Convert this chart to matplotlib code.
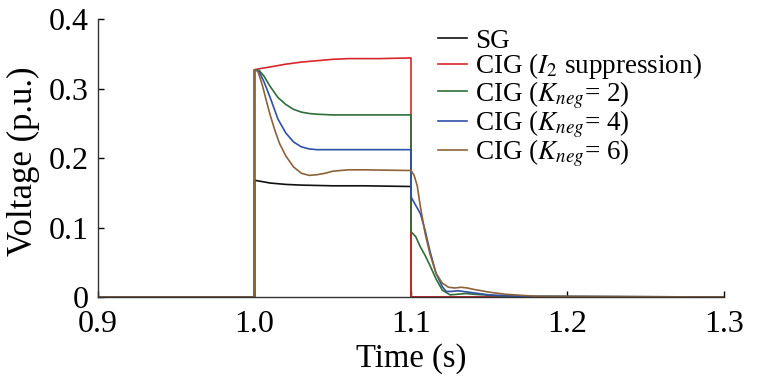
import matplotlib
matplotlib.use('Agg')
import matplotlib.pyplot as plt

# Donnees
t_sg = [0.9, 1.0, 1.0, 1.005, 1.01, 1.02, 1.03, 1.05, 1.07, 1.1, 1.1, 1.3]
v_sg = [0, 0, 0.168, 0.166, 0.164, 0.162, 0.161, 0.160, 0.160, 0.159, 0, 0]

t_i2 = [0.9, 1.0, 1.0, 1.002, 1.01, 1.02, 1.03, 1.04, 1.05, 1.06, 1.08, 1.1, 1.1, 1.3]
v_i2 = [0, 0, 0.327, 0.328, 0.331, 0.335, 0.338, 0.340, 0.342, 0.343, 0.343, 0.344, 0, 0]

t_k2 = [0.9, 1.0, 1.0, 1.003, 1.006, 1.01, 1.015, 1.02, 1.025, 1.03, 1.035, 1.04, 1.05,
        1.1, 1.1, 1.103, 1.106, 1.109, 1.112, 1.116, 1.12, 1.125, 1.13, 1.135, 1.14, 1.16, 1.3]
v_k2 = [0, 0, 0.327, 0.326, 0.318, 0.303, 0.287, 0.277, 0.270, 0.266, 0.264, 0.263, 0.262,
        0.262, 0.094, 0.087, 0.072, 0.060, 0.046, 0.026, 0.010, 0.003, 0.004, 0.005, 0.004, 0.001, 0]

t_k4 = [0.9, 1.0, 1.0, 1.003, 1.006, 1.01, 1.015, 1.02, 1.025, 1.03, 1.035, 1.04, 1.05,
        1.1, 1.1, 1.103, 1.106, 1.109, 1.112, 1.116, 1.12, 1.1225, 1.126, 1.13, 1.14, 1.15, 1.17, 1.3]
v_k4 = [0, 0, 0.327, 0.324, 0.310, 0.287, 0.256, 0.236, 0.223, 0.216, 0.213, 0.212, 0.212,
        0.212, 0.144, 0.132, 0.120, 0.096, 0.067, 0.034, 0.015, 0.008, 0.008, 0.009, 0.006, 0.003, 0.001, 0]

t_k6 = [0.9, 1.0, 1.0, 1.002, 1.005, 1.0075, 1.01, 1.013, 1.016, 1.02, 1.025, 1.03, 1.035,
        1.04, 1.045, 1.05, 1.055, 1.06, 1.07, 1.1, 1.102, 1.104, 1.106, 1.109, 1.112, 1.116,
        1.12, 1.124, 1.128, 1.132, 1.136, 1.14, 1.15, 1.16, 1.18, 1.3]
v_k6 = [0, 0, 0.327, 0.326, 0.305, 0.283, 0.262, 0.240, 0.221, 0.203, 0.187, 0.178, 0.175,
        0.176, 0.178, 0.181, 0.182, 0.183, 0.183, 0.182, 0.175, 0.160, 0.130, 0.092, 0.063, 0.034,
        0.020, 0.014, 0.013, 0.014, 0.013, 0.011, 0.007, 0.004, 0.001, 0]

labels = ['SG', r'CIG ($I_2$ suppression)', r'CIG ($K_{neg}$= 2)',
          r'CIG ($K_{neg}$= 4)', r'CIG ($K_{neg}$= 6)']
couleurs = ['#111111', '#d9262b', '#2d6e3a', '#3050a8', '#8c6239']

plt.rcParams['font.family'] = ['Liberation Serif', 'DejaVu Serif']
plt.rcParams['mathtext.fontset'] = 'stix'

fig = plt.figure(figsize=(7.62, 3.8), dpi=100)
ax = fig.add_axes([0.1286, 0.2184, 0.8215, 0.7316])

series = [(t_sg, v_sg), (t_i2, v_i2), (t_k2, v_k2), (t_k4, v_k4), (t_k6, v_k6)]
for (t, v), lab, c in zip(series, labels, couleurs):
    ax.plot(t, v, color=c, linewidth=1.2, label=lab)

ax.set_xlim(0.9, 1.3)
ax.set_ylim(0, 0.4)
ax.set_xticks([0.9, 1.0, 1.1, 1.2, 1.3])
ax.set_xticklabels(['0.9', '1.0', '1.1', '1.2', '1.3'])
ax.set_yticks([0, 0.1, 0.2, 0.3, 0.4])
ax.set_yticklabels(['0', '0.1', '0.2', '0.3', '0.4'])
ax.tick_params(direction='in', length=4, width=1, labelsize=23)
ax.tick_params(axis='x', pad=9.5)
ax.tick_params(axis='y', pad=7)
for s in ['top', 'right']:
    ax.spines[s].set_visible(False)
for s in ['left', 'bottom']:
    ax.spines[s].set_linewidth(1)
    ax.spines[s].set_color('#333333')

ax.set_xlabel('Time (s)', fontsize=23.5)
ax.set_ylabel('Voltage (p.u.)', fontsize=25)
ax.xaxis.set_label_coords(0.5, -0.165)
ax.yaxis.set_label_coords(-0.093, 0.49)

ax.legend(loc='upper left', bbox_to_anchor=(0.575, 0.925), bbox_transform=fig.transFigure,
          frameon=False, fontsize=19.5, handlelength=1.05, handletextpad=0.3,
          labelspacing=-0.08, borderaxespad=0, borderpad=0)

plt.savefig('out.png', dpi=100)
